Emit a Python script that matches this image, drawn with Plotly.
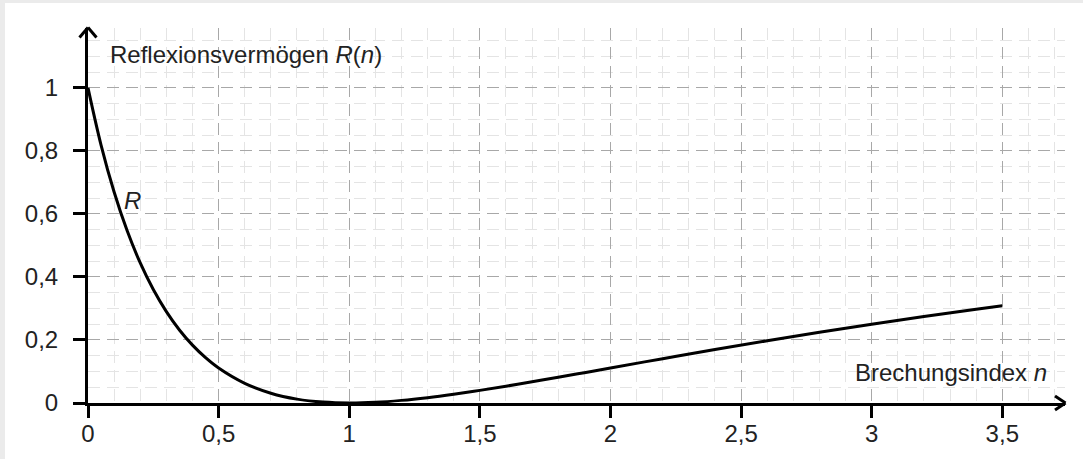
import plotly.graph_objects as go

# Data (Brechungsindex n, Reflexionsvermögen R(n))
n_values = [0, 0.05, 0.1, 0.15, 0.2, 0.25, 0.3, 0.35, 0.4, 0.45, 0.5, 0.6, 0.7, 0.8, 0.9,
            1.0, 1.1, 1.2, 1.3, 1.4, 1.5, 1.6, 1.7, 1.8, 1.9, 2.0, 2.2, 2.4, 2.6, 2.8,
            3.0, 3.2, 3.4, 3.5]
r_values = [1.0, 0.8186, 0.6694, 0.5463, 0.4444, 0.36, 0.2899, 0.2318, 0.1837, 0.1439,
            0.1111, 0.0625, 0.0311, 0.0123, 0.0028, 0.0, 0.0023, 0.0083, 0.017, 0.0278,
            0.04, 0.0533, 0.0672, 0.0816, 0.0963, 0.1111, 0.1406, 0.1696, 0.1975, 0.2244,
            0.25, 0.2744, 0.2975, 0.3086]

x_tick_vals = [0, 0.5, 1, 1.5, 2, 2.5, 3, 3.5]
y_tick_vals = [0, 0.2, 0.4, 0.6, 0.8, 1]

title_y = "Reflexionsvermögen <i>R</i>(<i>n</i>)"
title_x = "Brechungsindex <i>n</i>"
curve_label = "<i>R</i>"

W, H = 1083, 459
L, R, T, B = 88, 18, 28, 56
PW, PH = W - L - R, H - T - B

def px(xp):
    return (xp - L) / PW

def py(yp):
    return (H - B - yp) / PH

FONT = "Liberation Sans"
TXT = "#222222"
FS = 24

fig = go.Figure()
fig.add_trace(go.Scatter(x=n_values, y=r_values, mode="lines",
                         line=dict(color="black", width=3, shape="spline"),
                         hoverinfo="skip", showlegend=False))

major_grid = "#a8a8a8"
minor_grid = "#e4e4e4"
dash = "12px,7px"

fig.update_xaxes(range=[0, 3.74], tickvals=x_tick_vals, automargin=False,
                 showline=True, linecolor="black", linewidth=3,
                 ticks="outside", ticklen=12, tickwidth=3, tickcolor="black",
                 showgrid=True, gridcolor=major_grid, gridwidth=1, griddash=dash,
                 minor=dict(dtick=0.1, tick0=0, showgrid=True, gridcolor=minor_grid,
                            gridwidth=1, griddash=dash, ticks=""),
                 zeroline=False, ticklabelstandoff=-5,
                 tickfont=dict(family=FONT, size=FS, color=TXT), fixedrange=True)
fig.update_yaxes(range=[0, 1.19], tickvals=y_tick_vals, automargin=False,
                 showline=True, linecolor="black", linewidth=3,
                 ticks="outside", ticklen=12, tickwidth=3, tickcolor="black",
                 showgrid=True, gridcolor=major_grid, gridwidth=1, griddash=dash,
                 minor=dict(dtick=0.05, tick0=0, showgrid=True, gridcolor=minor_grid,
                            gridwidth=1, griddash=dash, ticks=""),
                 zeroline=False, ticklabelstandoff=10,
                 tickfont=dict(family=FONT, size=FS, color=TXT), fixedrange=True)

shapes = [
    # white panel on grey page
    dict(type="rect", xref="paper", yref="paper", x0=px(5), x1=px(W + 2), y0=py(H + 2), y1=py(3),
         fillcolor="white", line=dict(width=0), layer="below"),
    # x-axis arrow head
    dict(type="line", xref="paper", yref="paper", x0=px(1055), y0=py(396), x1=px(1065.5), y1=py(403),
         line=dict(color="black", width=3)),
    dict(type="line", xref="paper", yref="paper", x0=px(1055), y0=py(410), x1=px(1065.5), y1=py(403),
         line=dict(color="black", width=3)),
    # y-axis arrow head
    dict(type="line", xref="paper", yref="paper", x0=px(79.5), y0=py(37.5), x1=px(88), y1=py(27.5),
         line=dict(color="black", width=3)),
    dict(type="line", xref="paper", yref="paper", x0=px(96.5), y0=py(37.5), x1=px(88), y1=py(27.5),
         line=dict(color="black", width=3)),
]

annotations = [
    dict(text=title_y, xref="paper", yref="paper", x=px(108), y=py(54), xanchor="left",
         yanchor="middle", showarrow=False, font=dict(family=FONT, size=FS, color=TXT)),
    dict(text=title_x, xref="paper", yref="paper", x=px(1049), y=py(372), xanchor="right",
         yanchor="middle", showarrow=False, font=dict(family=FONT, size=FS, color=TXT)),
    dict(text=curve_label, xref="x", yref="y", x=0.17, y=0.644, xanchor="center",
         yanchor="middle", showarrow=False, font=dict(family=FONT, size=FS, color=TXT)),
]

fig.update_layout(width=W, height=H, margin=dict(l=L, r=R, t=T, b=B, pad=0, autoexpand=False),
                  paper_bgcolor="#ebebeb", plot_bgcolor="white",
                  separators=",.", shapes=shapes, annotations=annotations,
                  showlegend=False)

fig.write_html("out.html", config={"displayModeBar": False},
               post_script="document.body.style.margin='0';document.body.style.overflow='hidden';")
